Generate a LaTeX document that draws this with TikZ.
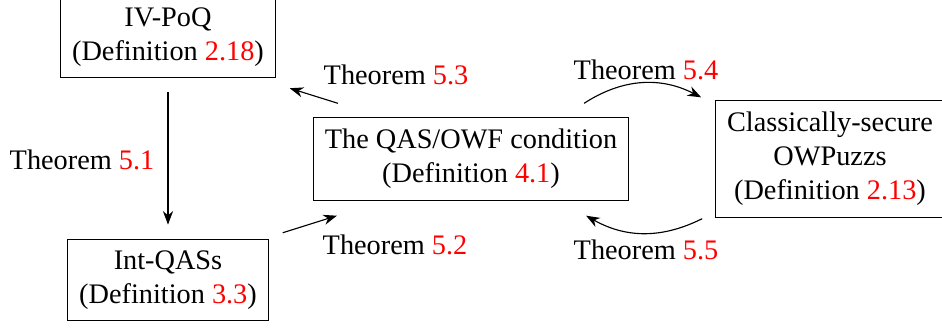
\documentclass[tikz,border=0pt]{standalone}
\usepackage{fontspec}
\setmainfont{Liberation Serif}
\usepackage{xcolor}
\usetikzlibrary{
	arrows.meta,
	positioning,
	calc
}

\newcommand{\thmref}[1]{Theorem \textcolor{red}{#1}}
\newcommand{\defref}[1]{(Definition \textcolor{red}{#1})}

\begin{document}
\begin{tikzpicture}[>=Stealth,x=0.3534pt,y=-0.3534pt,
		defbox/.style={draw,align=center,inner sep=4pt}]
			
			\useasboundingbox (0,0) rectangle (942,327);
			
			\node[defbox] (ivpoq) at (168,37) {IV-PoQ\\\defref{2.18}};
			\node[defbox] (intqas) at (168,280) {Int-QASs\\\defref{3.3}};
			\node[defbox] (cond) at (471,159) {The QAS/OWF condition\\\defref{4.1}};
			\node[defbox] (owpuzz) at (830,159) {Classically-secure\\OWPuzzs\\\defref{2.13}};
			
			\node (t51) at (82,160) {\thmref{5.1}};
			\node (t52) at (395,245) {\thmref{5.2}};
			\node (t53) at (396,75) {\thmref{5.3}};
			\node (t54) at (646,70) {\thmref{5.4}};
			\node (t55) at (646,250) {\thmref{5.5}};
			
			\draw[->,shorten <=5pt,shorten >=5pt] (ivpoq)--(intqas);
			
			\draw[->] ($(cond.north west)+(25,-14)$)
			--($(ivpoq.south east)+(14,10)$);
			
			\draw[->] ($(intqas.north east)+(14,-6)$)
			--($(cond.south west)+(24,15)$);
			
			\draw[->] ($(cond.north east)+(-45,-14)$)
			to[bend left=30] ($(owpuzz.north west)+(-14,-3)$);
			
			\draw[->] ($(owpuzz.south west)+(-13,1)$)
			to[bend left=28] ($(cond.south east)+(-43,15)$);
			
		\end{tikzpicture}
\end{document}
